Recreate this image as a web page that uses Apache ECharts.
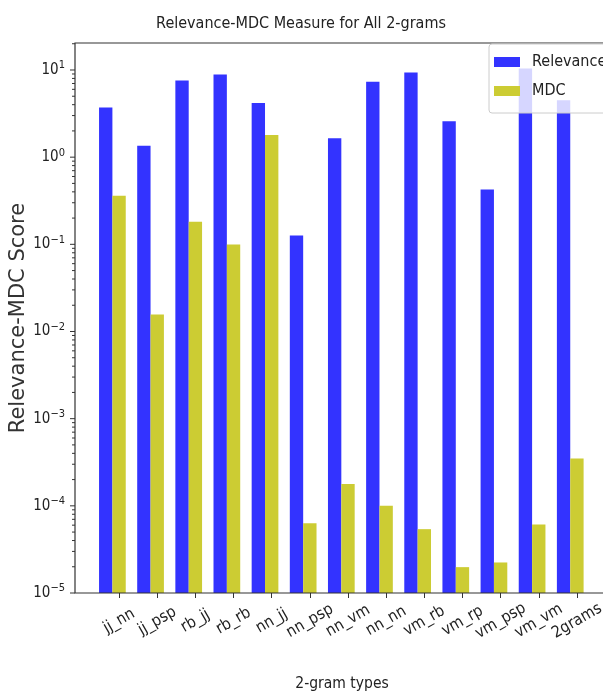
<!DOCTYPE html>
<html>
<head>
<meta charset="utf-8">
<script src="https://cdn.jsdelivr.net/npm/echarts@6/dist/echarts.min.js"></script>
<style>
  html, body { margin: 0; padding: 0; background: #ffffff; }
  #chart { width: 603px; height: 695px; }
</style>
</head>
<body>
<div id="chart"></div>
<script>
// 2-gram types and their scores
const categories = ['jj_nn', 'jj_psp', 'rb_jj', 'rb_rb', 'nn_jj', 'nn_psp', 'nn_vm',
                    'nn_nn', 'vm_rb', 'vm_rp', 'vm_psp', 'vm_vm', '2grams'];
const relevance = [3.72, 1.35, 7.6, 8.9, 4.17, 0.126, 1.65, 7.32, 9.38, 2.59, 0.426, 10.4, 4.51];
const mdc = [0.36, 0.0157, 0.181, 0.0995, 1.79, 6.3e-5, 1.78e-4, 1.0e-4, 5.4e-5, 1.98e-5, 2.24e-5, 6.1e-5, 3.48e-4];

// log axis decades that get a label
const yTickExponents = [-5, -4, -3, -2, -1, 0, 1];
const yMin = 1e-5;
const yMax = 20.4;

const FONT = '"DejaVu Sans Condensed", "DejaVu Sans", sans-serif';
const TEXT = '#222222';
const SPINE = '#333333';

// tick marks: one per decade plus the 2..9 multiples in between
const majorTicks = yTickExponents.map(e => Math.pow(10, e));
const minorTicks = [];
for (let e = yTickExponents[0]; e <= yTickExponents[yTickExponents.length - 1]; e++) {
  for (let m = 2; m <= 9; m++) {
    const v = m * Math.pow(10, e);
    if (v <= yMax) minorTicks.push(v);
  }
}
const tickData = majorTicks.map(v => [0, v, 5]).concat(minorTicks.map(v => [0, v, 3]));

function decadeLabel(v) {
  const e = Math.round(Math.log10(v));
  if (Math.abs(Math.log10(v) - e) > 1e-6) return '';
  return '{b|10}{sup|' + (e < 0 ? '\u2212' : '') + Math.abs(e) + '}';
}

// bars on a log axis rise from the bottom of the axis; offset is in category bands
function barRenderer(offset) {
  return function (params, api) {
    const i = api.value(0);
    const v = api.value(1);
    const top = api.coord([i, v]);
    const base = api.coord([i, yMin]);
    const band = api.size([1, 0])[0];
    return {
      type: 'rect',
      shape: { x: top[0] + offset * band, y: top[1], width: band * 0.35, height: base[1] - top[1] },
      style: api.style()
    };
  };
}

const chart = echarts.init(document.getElementById('chart'), null, { renderer: 'canvas' });

chart.setOption({
  animation: false,
  backgroundColor: '#ffffff',
  title: {
    text: 'Relevance-MDC Measure for All 2-grams',
    left: 296, textAlign: 'center', top: 11,
    textStyle: { fontFamily: FONT, fontSize: 16, fontWeight: 'normal', color: TEXT }
  },
  legend: {
    data: ['Relevance', 'MDC'],
    orient: 'vertical',
    left: 489, top: 44,
    icon: 'rect',
    itemWidth: 26, itemHeight: 10, itemGap: 13,
    padding: [10, 40, 14, 5],
    backgroundColor: 'rgba(255,255,255,0.8)',
    borderColor: '#cccccc', borderWidth: 1, borderRadius: 3,
    textStyle: { fontFamily: FONT, fontSize: 16, color: TEXT, padding: [0, 0, 0, 7] },
    z: 10
  },
  grid: [
    // frame holding the y axis and spines
    { left: 75, top: 43, width: 534, bottom: 102, outerBoundsMode: 'none', containLabel: false,
      show: true, borderColor: SPINE, borderWidth: 1.2, backgroundColor: 'transparent', z: 3 },
    // plotting band for the bars
    { left: 100, top: 43, width: 496, bottom: 102, outerBoundsMode: 'none', containLabel: false }
  ],
  xAxis: [
    {
      gridIndex: 0, type: 'value', min: 0, max: 1,
      axisLine: { show: false }, axisTick: { show: false }, axisLabel: { show: false }, splitLine: { show: false },
      name: '2-gram types', nameLocation: 'middle', nameGap: 83, nameMoveOverlap: false,
      nameTextStyle: { fontFamily: FONT, fontSize: 15.5, color: TEXT }
    },
    {
      gridIndex: 1, type: 'category', data: categories, boundaryGap: true,
      axisLine: { show: false },
      axisTick: { show: true, alignWithLabel: true, length: 5, lineStyle: { color: SPINE, width: 1 } },
      axisLabel: {
        rotate: 30, align: 'center', verticalAlign: 'middle', margin: 28, interval: 0,
        fontFamily: FONT, fontSize: 16, color: TEXT
      },
      splitLine: { show: false }
    }
  ],
  yAxis: [
    {
      gridIndex: 0, type: 'log', logBase: 10, min: yMin, max: yMax, splitNumber: 7,
      axisLine: { show: false }, axisTick: { show: false }, splitLine: { show: false },
      axisLabel: {
        margin: 10, formatter: decadeLabel,
        rich: {
          b: { fontFamily: FONT, fontSize: 15, color: TEXT },
          sup: { fontFamily: FONT, fontSize: 11, color: TEXT, padding: [0, 0, 9, 0] }
        }
      },
      name: 'Relevance-MDC Score', nameLocation: 'middle', nameGap: 46, nameRotate: 90,
      nameMoveOverlap: false,
      nameTextStyle: { fontFamily: '"DejaVu Sans", sans-serif', fontSize: 21, color: '#333333' }
    },
    {
      gridIndex: 1, type: 'log', logBase: 10, min: yMin, max: yMax, splitNumber: 7,
      show: false, splitLine: { show: false }
    }
  ],
  series: [
    {
      name: 'Relevance', type: 'custom', xAxisIndex: 1, yAxisIndex: 1,
      renderItem: barRenderer(-0.525),
      itemStyle: { color: '#3333ff' },
      encode: { x: 0, y: 1 },
      data: relevance.map((v, i) => [i, v]),
      silent: true, z: 2
    },
    {
      name: 'MDC', type: 'custom', xAxisIndex: 1, yAxisIndex: 1,
      renderItem: barRenderer(-0.175),
      itemStyle: { color: '#cccc33' },
      encode: { x: 0, y: 1 },
      data: mdc.map((v, i) => [i, v]),
      silent: true, z: 2
    },
    {
      name: 'yticks', type: 'custom', xAxisIndex: 0, yAxisIndex: 0,
      renderItem: function (params, api) {
        const p = api.coord([0, api.value(1)]);
        const len = api.value(2);
        return {
          type: 'line',
          shape: { x1: p[0] - len, y1: p[1], x2: p[0], y2: p[1] },
          style: { stroke: SPINE, lineWidth: 1 }
        };
      },
      encode: { x: 0, y: 1 },
      data: tickData,
      silent: true, z: 4
    }
  ]
});
</script>
</body>
</html>
